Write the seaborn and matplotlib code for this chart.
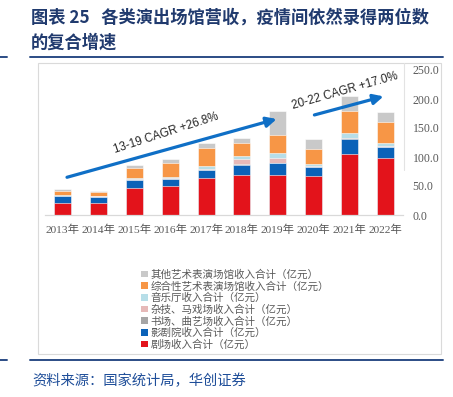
import pandas as pd
import numpy as np
import seaborn as sns
import matplotlib.pyplot as plt
from matplotlib.patches import Patch, Rectangle
from matplotlib.lines import Line2D

# values (亿元)
years = ['2013年', '2014年', '2015年', '2016年', '2017年',
         '2018年', '2019年', '2020年', '2021年', '2022年']
theatre = [21, 20, 46, 50, 63, 69, 69, 68, 106, 99]
cinema_theatre = [11, 11, 13.5, 11.5, 14, 17.5, 20, 15, 25, 18]
storytelling = [0.5, 0.5, 0.8, 0.8, 1.0, 1.0, 1.0, 0.6, 1.0, 0.8]
acrobatics = [0.5, 0.5, 1.0, 1.0, 2.0, 9.0, 8.0, 1.0, 1.5, 1.0]
concert_hall = [1.0, 1.0, 2.5, 3.0, 5.0, 5.0, 8.5, 4.0, 8.5, 5.0]
multi_venue = [7, 6, 17, 23, 31, 22, 32, 26, 38, 36]
other_venue = [3, 2.5, 5.5, 8, 9, 10, 40, 17, 24.5, 18]

series_names = ['剧场收入合计（亿元）', '影剧院收入合计（亿元）', '书场、曲艺场收入合计（亿元）',
                '杂技、马戏场收入合计（亿元）', '音乐厅收入合计（亿元）',
                '综合性艺术表演场馆收入合计（亿元）', '其他艺术表演场馆收入合计（亿元）']
colors = ['#E3131B', '#0B62B8', '#A6A6A6', '#E6B9B8', '#B7DEE8', '#F79646', '#C9C9C9']

df = pd.DataFrame(dict(zip(series_names, [theatre, cinema_theatre, storytelling, acrobatics,
                                           concert_hall, multi_venue, other_venue])), index=years)
cum = df.cumsum(axis=1)

NAVY = '#203A6E'
CJK = ['Noto Sans CJK SC', 'DejaVu Sans']
SERIF = ['Liberation Serif', 'Noto Sans CJK SC']
SANS = ['Liberation Sans', 'DejaVu Sans']

sns.set_style('white')
plt.rcParams['font.family'] = CJK

W, H = 453, 397
fig = plt.figure(figsize=(W / 100, H / 100), dpi=100)
ax = fig.add_axes([45 / W, 1 - 215 / H, 358 / W, 145 / H])

# stacked bars: draw cumulative totals from the top layer down
for name, c in reversed(list(zip(series_names, colors))):
    sns.barplot(x=years, y=cum[name].values, color=c, saturation=1, width=0.47,
                linewidth=0.4, edgecolor='white', ax=ax)

ax.set_ylim(0, 250)
ax.set_xlim(-0.5, 9.5)
ax.set_yticks(np.arange(0, 251, 50))
ax.set_yticklabels([f'{v:.1f}' for v in np.arange(0, 251, 50)])
ax.yaxis.tick_right()
ax.tick_params(axis='y', length=0, pad=7, labelsize=8.5, labelcolor='#595959')
ax.tick_params(axis='x', length=0, pad=7, labelsize=8.2, labelcolor='#595959')
for lab in ax.get_xticklabels() + ax.get_yticklabels():
    lab.set_family(SERIF)
ax.set_xlabel('')
ax.set_ylabel('')
for s in ['top', 'left', 'right']:
    ax.spines[s].set_visible(False)
ax.spines['bottom'].set_color('#D9D9D9')
ax.spines['bottom'].set_linewidth(0.9)

# CAGR arrows
arrow_kw = dict(arrowstyle='-|>', color='#0F6FC6', lw=2.3, mutation_scale=15)
ax.annotate('', xy=(0.6545, 0.667), xytext=(0.054, 0.255), xycoords='axes fraction',
            arrowprops=arrow_kw)
ax.annotate('', xy=(0.953, 0.823), xytext=(0.745, 0.685), xycoords='axes fraction',
            arrowprops=arrow_kw)
ax.text(0.338, 0.562, '13-19 CAGR +26.8%', transform=ax.transAxes, rotation=18,
        ha='center', va='center', fontsize=8.4, family=SANS)
ax.text(0.838, 0.858, '20-22 CAGR +17.0%', transform=ax.transAxes, rotation=16,
        ha='center', va='center', fontsize=8.4, family=SANS)

# legend, top entry first
handles = [Patch(facecolor=c, edgecolor='none', label=n)
           for n, c in reversed(list(zip(series_names, colors)))]
fig.legend(handles=handles, loc='upper left', bbox_to_anchor=(136 / W, 1 - 264 / H),
           frameon=False, fontsize=7.6, labelcolor='#595959', handlelength=0.6,
           handleheight=0.6, handletextpad=0.3, labelspacing=0.12, borderpad=0)

# frame around chart
fig.add_artist(Rectangle((38 / W, 1 - 354 / H), 403 / W, 291 / H, transform=fig.transFigure,
                         fill=False, edgecolor='#DADADA', lw=0.8))
fig.add_artist(Line2D([404 / W, 404 / W], [1 - 63 / H, 1 - 170 / H], color='#E3E3E3', lw=0.8))

# title and rules
fig.text(31 / W, 1 - 18 / H, '图表 25   各类演出场馆营收，疫情间依然录得两位数',
         fontsize=12.4, fontweight='bold', color=NAVY, va='center', ha='left')
fig.text(31 / W, 1 - 43 / H, '的复合增速', fontsize=12.4, fontweight='bold',
         color=NAVY, va='center', ha='left')
for y in (57, 360):
    fig.add_artist(Line2D([30 / W, 443 / W], [1 - y / H, 1 - y / H], color='#2B4C85', lw=1.4))
    fig.add_artist(Line2D([0, 7 / W], [1 - y / H, 1 - y / H], color='#2B4C85', lw=1.4))

fig.text(32 / W, 1 - 381 / H, '资料来源：国家统计局，华创证券', fontsize=10.3,
         color='#1F4E99', style='italic', va='center', ha='left')

fig.savefig('out.png', dpi=100)
